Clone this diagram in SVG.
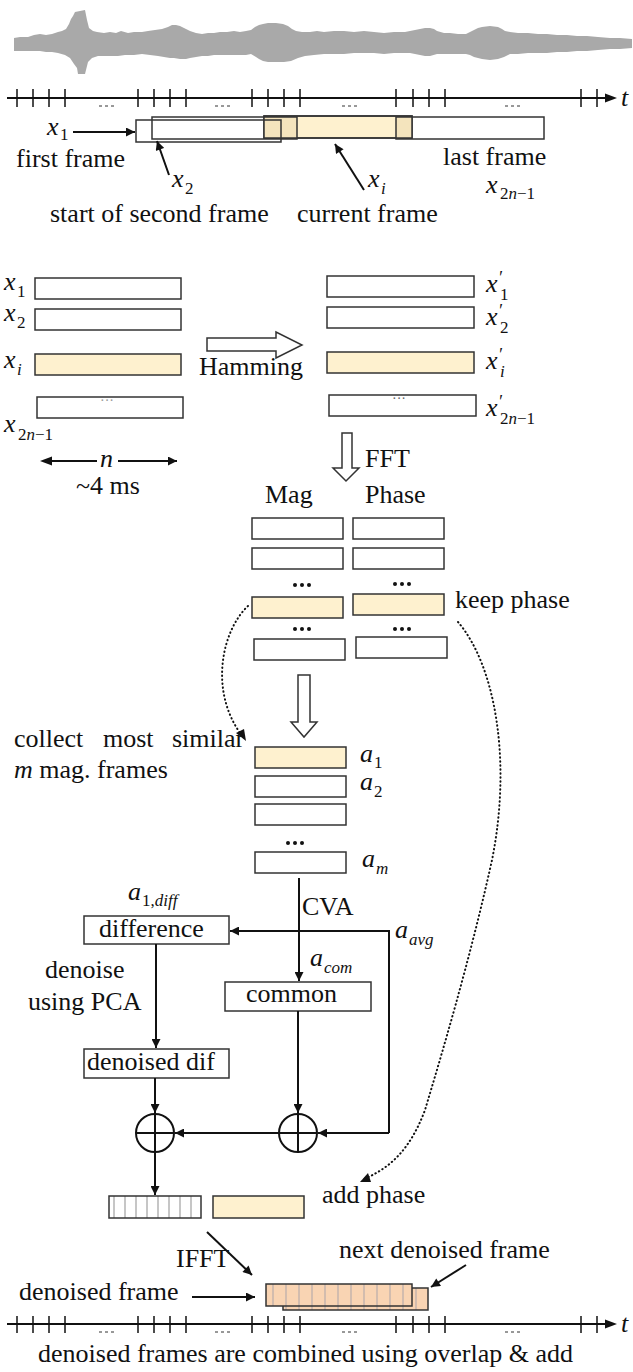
<svg xmlns="http://www.w3.org/2000/svg" width="633" height="1372" viewBox="0 0 633 1372">
<defs>
<style>
text{font-family:"Liberation Serif","Times New Roman",serif;font-size:26px;fill:#111}
.it{font-style:italic}
.sub{font-size:17px}
.pr{font-size:18px;font-style:italic}
.box{fill:#fff;stroke:#333;stroke-width:1.5}
.yel{fill:#fef1cf;stroke:#333;stroke-width:1.5}
.nof{fill:none;stroke:#333;stroke-width:1.5}
.ln{fill:none;stroke:#111;stroke-width:2}
.tk{stroke:#111;stroke-width:1.5}
.dots{fill:none;stroke:#111;stroke-width:2;stroke-dasharray:0.5,3.5;stroke-linecap:round}
.hollow{fill:#fff;stroke:#333;stroke-width:1.5}
.dash{stroke:#333;stroke-width:1;stroke-dasharray:3,3}
.faint{font-size:14px;fill:#999}
</style>
<marker id="ah" viewBox="0 0 10 10" refX="10" refY="5" markerWidth="11" markerHeight="9" markerUnits="userSpaceOnUse" orient="auto"><path d="M0,0 L10,5 L0,10 z" fill="#111"/></marker>
<pattern id="gs" patternUnits="userSpaceOnUse" x="109" y="0" width="11" height="30"><rect width="11" height="30" fill="#fff"/><rect x="4" width="2" height="30" fill="#c6c6c6"/></pattern>
<pattern id="ps" patternUnits="userSpaceOnUse" x="266" y="0" width="13" height="30"><rect width="13" height="30" fill="#f9d4b3"/><rect x="6" width="2" height="30" fill="#d2bcae"/></pattern>
</defs>

<g id="waveform">
<path fill="#a9a9a9" d="M14,38 L20,37 L28,37 L34,35 L40,34 L46,35 L52,34 L58,32 L62,31 L66,29 L69,24 L71,19 L73,16 L75,12 L80,11 L85,10 L87,20 L89,28 L93,31 L97,32 L104,33 L110,32 L116,33 L121,31 L128,33 L134,32 L142,32 L148,31 L155,30 L162,29 L168,27 L172,25 L176,25 L180,26 L186,29 L190,31 L196,33 L202,34 L208,33 L214,33 L220,32 L227,32 L234,31 L240,32 L246,31 L251,30 L255,27 L259,25 L263,24 L268,23 L276,23 L283,24 L288,26 L292,29 L296,31 L302,32 L310,32 L317,31 L324,32 L334,31 L344,31 L354,32 L364,31 L374,32 L384,33 L394,32 L405,32 L410,31 L415,30 L420,29 L425,28 L430,28 L434,29 L437,31 L444,33 L450,33 L458,34 L466,34 L470,32 L474,30 L478,28 L482,27 L490,26 L498,27 L502,29 L505,31 L510,32 L518,33 L528,33 L538,34 L547,34 L557,35 L567,35 L577,36 L587,36 L598,37 L610,38 L620,38 L632,39 L632,48 L620,49 L610,49 L598,50 L587,51 L577,51 L567,52 L557,52 L547,53 L538,53 L528,53 L518,54 L510,54 L504,57 L498,59 L490,60 L482,59 L478,58 L474,57 L470,55 L466,54 L458,54 L450,54 L444,54 L437,54 L430,56 L425,56 L420,55 L415,54 L410,53 L405,53 L394,53 L384,54 L374,53 L364,53 L354,53 L344,54 L334,54 L324,54 L314,55 L305,56 L298,58 L291,61 L284,62 L276,62 L268,62 L263,61 L259,59 L256,57 L251,54 L246,55 L240,55 L234,55 L227,55 L220,55 L214,55 L208,56 L202,56 L196,57 L190,58 L186,59 L180,59 L174,58 L170,58 L164,57 L158,56 L150,55 L142,54 L134,55 L125,55 L118,56 L110,56 L104,56 L98,56 L92,58 L88,62 L87,66 L86,70 L85,74 L78,74 L77,68 L74,64 L72,61 L70,58 L65,55 L58,53 L52,52 L46,52 L40,51 L34,51 L26,51 L20,51 L14,51 Z"/>
</g>

<g id="timeline-top">
<line class="ln" x1="7" y1="98" x2="607" y2="98"/>
<path d="M617,98 L605,93.5 L605,102.5 Z" fill="#111"/>
<g class="tk">
<line x1="17" y1="89" x2="17" y2="107"/><line x1="33" y1="89" x2="33" y2="107"/><line x1="49" y1="89" x2="49" y2="107"/><line x1="65" y1="89" x2="65" y2="107"/>
<line x1="138" y1="89" x2="138" y2="107"/><line x1="154" y1="89" x2="154" y2="107"/><line x1="170" y1="89" x2="170" y2="107"/><line x1="186" y1="89" x2="186" y2="107"/>
<line x1="252" y1="89" x2="252" y2="107"/><line x1="268" y1="89" x2="268" y2="107"/><line x1="284" y1="89" x2="284" y2="107"/><line x1="300" y1="89" x2="300" y2="107"/>
<line x1="396" y1="89" x2="396" y2="107"/><line x1="413" y1="89" x2="413" y2="107"/><line x1="429" y1="89" x2="429" y2="107"/><line x1="445" y1="89" x2="445" y2="107"/>
<line x1="581" y1="89" x2="581" y2="107"/><line x1="597" y1="89" x2="597" y2="107"/>
</g>
<line class="dash" x1="99" y1="106" x2="114" y2="106"/><line class="dash" x1="215" y1="106" x2="231" y2="106"/><line class="dash" x1="342" y1="106" x2="358" y2="106"/><line class="dash" x1="505" y1="106" x2="520" y2="106"/>
<text x="621" y="106" class="it">t</text>
</g>

<g id="frames-top">
<rect class="yel" x="264" y="116" width="148" height="22"/>
<rect x="264" y="117" width="33" height="21" fill="#f4e4bd"/>
<rect x="396" y="117" width="16" height="21" fill="#f4e4bd"/>
<rect class="nof" x="136" y="120" width="145" height="22"/>
<rect class="nof" x="152" y="117" width="145" height="22"/>
<rect class="nof" x="396" y="117" width="148" height="22"/>
<rect class="nof" x="264" y="116" width="148" height="22"/>
</g>

<g id="labels-top">
<text x="47" y="135" class="it">x</text><text x="60" y="140" class="sub">1</text>
<line class="ln" x1="73" y1="132" x2="135" y2="132" marker-end="url(#ah)"/>
<text x="16" y="167">first frame</text>
<text x="172" y="187" class="it">x</text><text x="185" y="194" class="sub">2</text>
<line class="ln" x1="169" y1="175" x2="157" y2="141" marker-end="url(#ah)"/>
<text x="368" y="187" class="it">x</text><text x="381" y="194" class="sub it">i</text>
<line class="ln" x1="364" y1="190" x2="335" y2="144" marker-end="url(#ah)"/>
<text x="443" y="165">last frame</text>
<text x="486" y="193" class="it">x</text><text x="500" y="199" class="sub">2<tspan class="it">n</tspan>−1</text>
<text x="50" y="222">start of second frame</text>
<text x="297" y="222">current frame</text>
</g>

<g id="frames-left">
<rect class="box" x="35" y="278" width="146" height="21"/>
<rect class="box" x="35" y="309" width="146" height="21"/>
<rect class="yel" x="35" y="354" width="146" height="21"/>
<rect class="box" x="37" y="397" width="146" height="21"/>
<text x="100" y="405" class="faint">···</text>
<text x="4" y="290" class="it">x</text><text x="17" y="297" class="sub">1</text>
<text x="4" y="321" class="it">x</text><text x="17" y="328" class="sub">2</text>
<text x="4" y="368" class="it">x</text><text x="17" y="375" class="sub it">i</text>
<text x="4" y="432" class="it">x</text><text x="18" y="440" class="sub">2<tspan class="it">n</tspan>−1</text>
</g>

<g id="hamming">
<polygon class="hollow" points="207,338 276,338 276,332 302,345 276,358 276,351 207,351"/>
<text x="199" y="375">Hamming</text>
</g>

<g id="frames-right">
<rect class="box" x="327" y="276" width="147" height="21"/>
<rect class="box" x="327" y="307" width="147" height="21"/>
<rect class="yel" x="327" y="352" width="147" height="21"/>
<rect class="box" x="329" y="395" width="147" height="21"/>
<text x="392" y="403" class="faint" style="fill:#666">···</text>
<text x="486" y="292" class="it">x</text><text x="498" y="284" class="pr">′</text><text x="500" y="300" class="sub">1</text>
<text x="486" y="325" class="it">x</text><text x="498" y="317" class="pr">′</text><text x="500" y="333" class="sub">2</text>
<text x="486" y="369" class="it">x</text><text x="498" y="361" class="pr">′</text><text x="500" y="377" class="sub it">i</text>
<text x="486" y="416" class="it">x</text><text x="498" y="408" class="pr">′</text><text x="500" y="424" class="sub">2<tspan class="it">n</tspan>−1</text>
</g>

<g id="n-scale">
<line class="ln" x1="44" y1="461" x2="97" y2="461"/>
<path d="M40,461 L52,456.5 L52,465.5 Z" fill="#111"/>
<line class="ln" x1="118" y1="461" x2="177" y2="461" marker-end="url(#ah)"/>
<text x="100" y="467" class="it">n</text>
<text x="76" y="494">~4 ms</text>
</g>

<g id="fft">
<polygon class="hollow" points="342,433 352,433 352,468 359,468 346,481 333,468 342,468"/>
<text x="365" y="467">FFT</text>
</g>

<g id="mag-phase">
<text x="265" y="503">Mag</text>
<text x="365" y="503">Phase</text>
<rect class="box" x="252" y="518" width="91" height="21"/>
<rect class="box" x="353" y="518" width="91" height="21"/>
<rect class="box" x="252" y="548" width="91" height="21"/>
<rect class="box" x="353" y="548" width="91" height="21"/>
<rect class="yel" x="252" y="597" width="91" height="21"/>
<rect class="yel" x="353" y="594" width="91" height="21"/>
<rect class="box" x="254" y="639" width="91" height="21"/>
<rect class="box" x="356" y="637" width="91" height="21"/>
<g fill="#111">
<circle cx="295" cy="585" r="2"/><circle cx="302" cy="585" r="2"/><circle cx="309" cy="585" r="2"/>
<circle cx="395" cy="584" r="2"/><circle cx="402" cy="584" r="2"/><circle cx="409" cy="584" r="2"/>
<circle cx="295" cy="629" r="2"/><circle cx="302" cy="629" r="2"/><circle cx="309" cy="629" r="2"/>
<circle cx="395" cy="629" r="2"/><circle cx="402" cy="629" r="2"/><circle cx="409" cy="629" r="2"/>
</g>
<text x="455" y="608">keep phase</text>
</g>

<g id="arrow-collect">
<polygon class="hollow" points="298,675 310,675 310,722 317,722 304,737 291,722 298,722"/>
</g>

<g id="collect-label">
<text x="14" y="747">collect</text><text x="103" y="747">most</text><text x="172" y="747">similar</text>
<text x="14" y="778"><tspan class="it">m</tspan> mag. frames</text>
</g>

<g id="a-frames">
<rect class="yel" x="255" y="747" width="91" height="21"/>
<rect class="box" x="255" y="776" width="91" height="21"/>
<rect class="box" x="255" y="804" width="91" height="21"/>
<g fill="#111"><circle cx="288" cy="843" r="2"/><circle cx="295" cy="843" r="2"/><circle cx="302" cy="843" r="2"/></g>
<rect class="box" x="255" y="852" width="91" height="21"/>
<text x="360" y="762" class="it">a</text><text x="374" y="768" class="sub">1</text>
<text x="360" y="790" class="it">a</text><text x="374" y="797" class="sub">2</text>
<text x="362" y="867" class="it">a</text><text x="376" y="874" class="sub it">m</text>
</g>

<g id="difference">
<rect class="box" x="84" y="916" width="145" height="28"/>
<text x="99" y="937">difference</text>
<text x="128" y="900" class="it">a</text><text x="142" y="906" class="sub">1,<tspan class="it">diff</tspan></text>
</g>

<g id="common">
<rect class="box" x="225" y="982" width="146" height="29"/>
<text x="246" y="1002">common</text>
<text x="310" y="966" class="it">a</text><text x="324" y="973" class="sub it">com</text>
</g>

<g id="denoised-dif">
<rect class="box" x="84" y="1049" width="145" height="29"/>
<text x="87" y="1070">denoised dif</text>
</g>

<g id="sum1">
<circle cx="155" cy="1133" r="19" fill="#fff" stroke="#111" stroke-width="2"/>
<line class="ln" x1="136" y1="1133" x2="174" y2="1133"/><line class="ln" x1="155" y1="1114" x2="155" y2="1152"/>
</g>
<g id="sum2">
<circle cx="298" cy="1133" r="19" fill="#fff" stroke="#111" stroke-width="2"/>
<line class="ln" x1="279" y1="1133" x2="317" y2="1133"/><line class="ln" x1="298" y1="1114" x2="298" y2="1152"/>
</g>

<g id="result-frames">
<rect x="109" y="1196" width="92" height="22" fill="url(#gs)" stroke="#333" stroke-width="1.5"/>
<rect class="yel" x="213" y="1196" width="91" height="22"/>
<text x="322" y="1203">add phase</text>
</g>

<g id="denoised-frames">
<rect x="283" y="1288" width="145" height="22" fill="url(#ps)" stroke="#333" stroke-width="1.5"/>
<rect x="266" y="1284" width="146" height="22" fill="url(#ps)" stroke="#333" stroke-width="1.5"/>
<text x="339" y="1258">next denoised frame</text>
<text x="19" y="1300">denoised frame</text>
<text x="176" y="1267">IFFT</text>
</g>

<g id="timeline-bottom">
<line class="ln" x1="7" y1="1324" x2="607" y2="1324"/>
<path d="M617,1324 L605,1319.5 L605,1328.5 Z" fill="#111"/>
<g class="tk">
<line x1="17" y1="1316" x2="17" y2="1333"/><line x1="33" y1="1316" x2="33" y2="1333"/><line x1="49" y1="1316" x2="49" y2="1333"/><line x1="65" y1="1316" x2="65" y2="1333"/>
<line x1="138" y1="1316" x2="138" y2="1333"/><line x1="154" y1="1316" x2="154" y2="1333"/><line x1="170" y1="1316" x2="170" y2="1333"/><line x1="186" y1="1316" x2="186" y2="1333"/>
<line x1="252" y1="1316" x2="252" y2="1333"/><line x1="268" y1="1316" x2="268" y2="1333"/><line x1="284" y1="1316" x2="284" y2="1333"/><line x1="300" y1="1316" x2="300" y2="1333"/>
<line x1="396" y1="1316" x2="396" y2="1333"/><line x1="413" y1="1316" x2="413" y2="1333"/><line x1="429" y1="1316" x2="429" y2="1333"/><line x1="445" y1="1316" x2="445" y2="1333"/>
<line x1="581" y1="1316" x2="581" y2="1333"/><line x1="597" y1="1316" x2="597" y2="1333"/>
</g>
<line class="dash" x1="99" y1="1332" x2="114" y2="1332"/><line class="dash" x1="215" y1="1332" x2="231" y2="1332"/><line class="dash" x1="342" y1="1332" x2="358" y2="1332"/><line class="dash" x1="505" y1="1332" x2="520" y2="1332"/>
<text x="621" y="1332" class="it">t</text>
<text x="38" y="1362">denoised frames are combined using overlap &amp; add</text>
</g>

<g id="connectors">
<line class="ln" x1="299" y1="878" x2="299" y2="981" marker-end="url(#ah)"/>
<text x="302" y="915">CVA</text>
<polyline class="ln" points="389,1133 389,931 230,931" marker-end="url(#ah)"/>
<text x="395" y="938" class="it">a</text><text x="409" y="945" class="sub it">avg</text>
<line class="ln" x1="389" y1="1133" x2="318" y2="1133" marker-end="url(#ah)"/>
<line class="ln" x1="156" y1="944" x2="156" y2="1048" marker-end="url(#ah)"/>
<text x="45" y="978">denoise</text>
<text x="28" y="1010">using PCA</text>
<line class="ln" x1="155" y1="1078" x2="155" y2="1113" marker-end="url(#ah)"/>
<line class="ln" x1="298" y1="1011" x2="298" y2="1113" marker-end="url(#ah)"/>
<line class="ln" x1="279" y1="1133" x2="175" y2="1133" marker-end="url(#ah)"/>
<line class="ln" x1="155" y1="1152" x2="155" y2="1195" marker-end="url(#ah)"/>
<line class="ln" x1="207" y1="1232" x2="252" y2="1275" marker-end="url(#ah)"/>
<line class="ln" x1="466" y1="1265" x2="431" y2="1287" marker-end="url(#ah)"/>
<line class="ln" x1="192" y1="1297" x2="255" y2="1297" marker-end="url(#ah)"/>
<path class="dots" d="M248,606 C222,630 208,692 243,737"/>
<path d="M246,741 L236,733 L244,729 Z" fill="#111"/>
<path class="dots" d="M458,622 C495,665 512,760 492,860 C470,960 440,1060 425,1110 C410,1150 390,1168 364,1179"/>
<path d="M360,1182 L368,1173 L371,1182 Z" fill="#111"/>
</g>
</svg>
